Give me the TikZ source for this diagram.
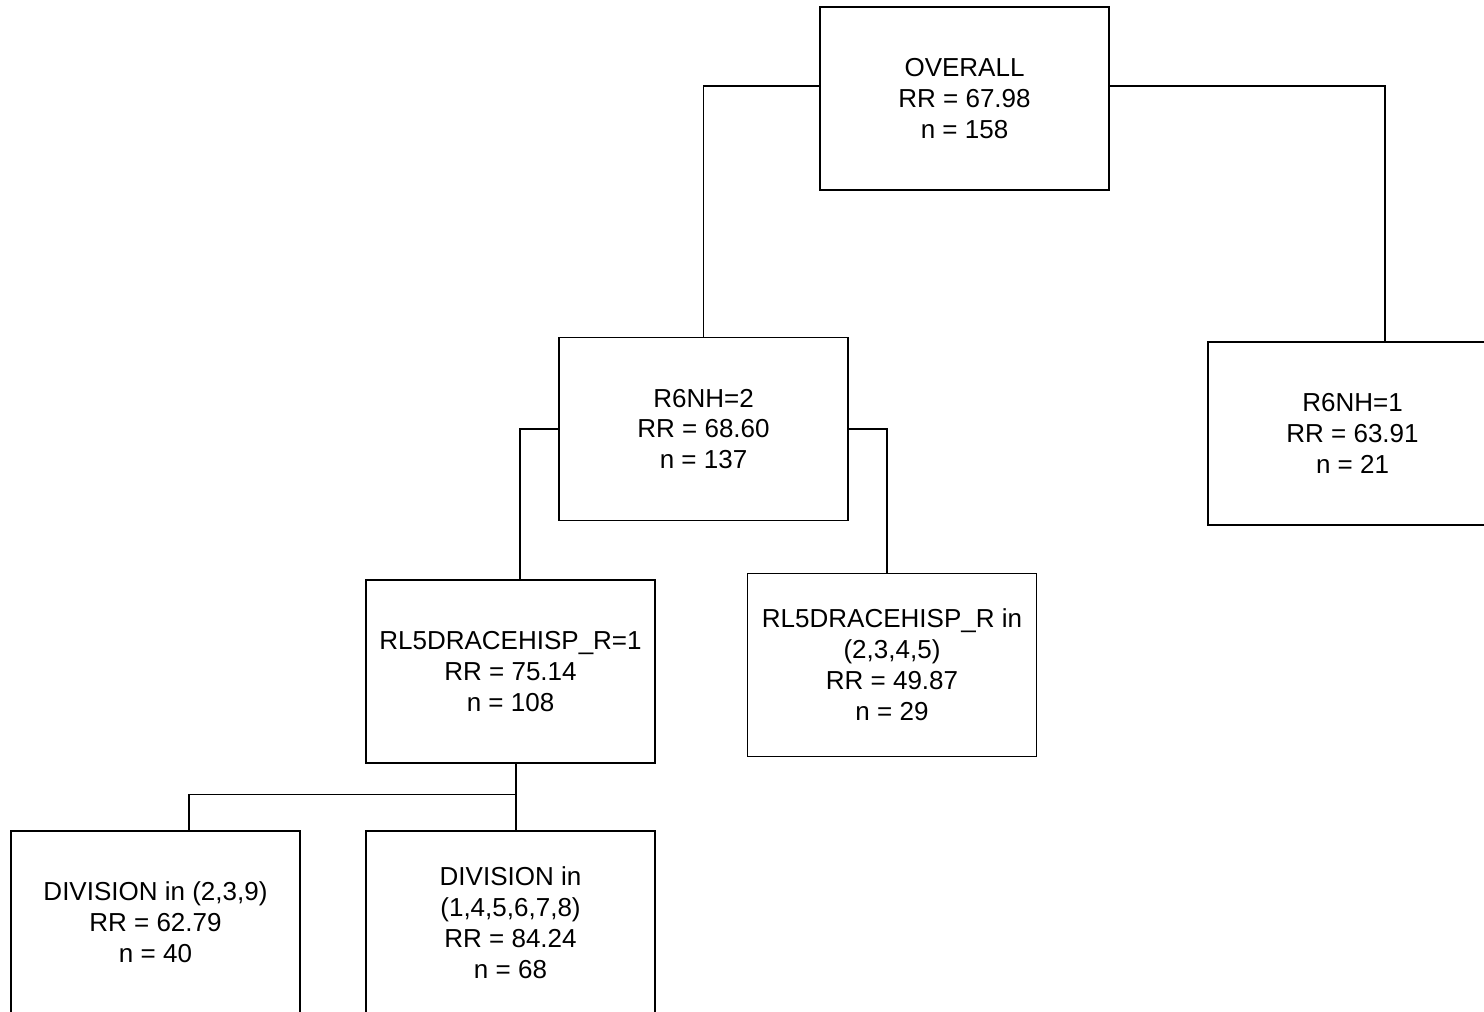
\documentclass[tikz,border=0pt]{standalone}
\usepackage{fontspec}
\setmainfont{Liberation Sans}
\usetikzlibrary{positioning}

\begin{document}
\begin{tikzpicture}[line width=0.65pt,
	tree node/.style={rectangle, draw, minimum width=5.78cm, minimum height=3.66cm,
		inner sep=0pt, align=center, font=\fontsize{14.8}{17.6}\selectfont}]
	
	\useasboundingbox (0,0) rectangle (29.68,-20.22);
	\clip (0,0) rectangle (29.68,-20.22);
	
	% Nodes of the tree
	\node[tree node] (overall) at (19.29,-1.97) {OVERALL\\RR = 67.98\\n = 158};
	\node[tree node] (nh2) at (14.07,-8.58) {R6NH=2\\RR = 68.60\\n = 137};
	\node[tree node] (nh1) at (27.05,-8.67) {R6NH=1\\RR = 63.91\\n = 21};
	\node[tree node] (race1) at (10.21,-13.43) {RL5DRACEHISP\_R=1\\RR = 75.14\\n = 108};
	\node[tree node] (race2) at (17.84,-13.30) {RL5DRACEHISP\_R in\\(2,3,4,5)\\RR = 49.87\\n = 29};
	\node[tree node] (div1) at (3.11,-18.45) {DIVISION in (2,3,9)\\RR = 62.79\\n = 40};
	\node[tree node] (div2) at (10.21,-18.45) {DIVISION in\\(1,4,5,6,7,8)\\RR = 84.24\\n = 68};
	
	% Branches
	\draw ([yshift=0.25cm]overall.west) -| (nh2.north);
	\draw ([yshift=0.25cm]overall.east) -| ([xshift=0.65cm]nh1.north);
	\draw (nh2.west) -| ([xshift=0.19cm]race1.north);
	\draw (nh2.east) -| ([xshift=-0.1cm]race2.north);
	\draw ([xshift=0.11cm]race1.south) -- ([xshift=0.11cm]div2.north);
	\draw ([xshift=0.11cm,yshift=-0.62cm]race1.south) -| ([xshift=0.67cm]div1.north);
\end{tikzpicture}
\end{document}
